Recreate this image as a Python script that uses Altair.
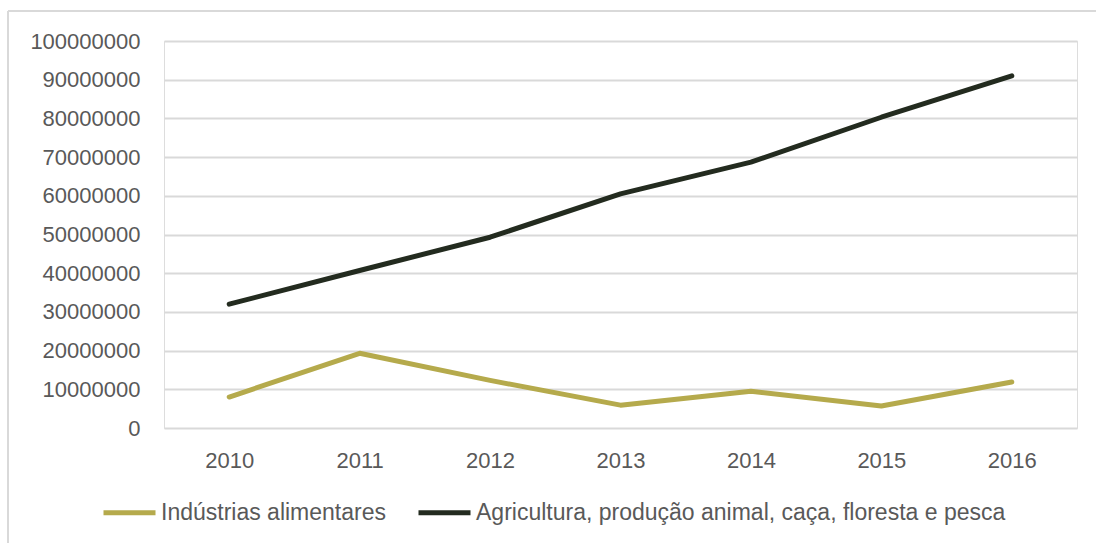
import altair as alt
import pandas as pd

years = ["2010", "2011", "2012", "2013", "2014", "2015", "2016"]
industrias = [8000000, 19300000, 12300000, 5900000, 9500000, 5700000, 11900000]
agricultura = [32000000, 40700000, 49300000, 60500000, 68700000, 80300000, 91000000]
series_names = ["Indústrias alimentares", "Agricultura, produção animal, caça, floresta e pesca"]
colors = ["#b5aa4c", "#232b1f"]
y_ticks = list(range(0, 100000001, 10000000))

rows = []
for i, y in enumerate(years):
    rows.append({"ano": y, "valor": industrias[i], "serie": series_names[0]})
    rows.append({"ano": y, "valor": agricultura[i], "serie": series_names[1]})
df = pd.DataFrame(rows)

FONT = "Liberation Sans"
W, H = 913, 387
PL, PT = 164, 41

lines = alt.Chart(df).mark_line(strokeWidth=5, strokeCap="round", strokeJoin="round").encode(
    x=alt.X("ano:O", sort=years, title=None,
            scale=alt.Scale(type="point", padding=0.5),
            axis=alt.Axis(labelAngle=0, ticks=False, domain=False, labelPadding=22,
                          labelFontSize=22, labelColor="#595959", labelFont=FONT)),
    y=alt.Y("valor:Q", title=None,
            scale=alt.Scale(domain=[0, 100000000], nice=False),
            axis=alt.Axis(values=y_ticks, format="d", ticks=False, domain=False,
                          labelPadding=24, labelFontSize=22, labelColor="#595959",
                          labelFont=FONT, grid=True, gridColor="#d9d9d9", gridWidth=2)),
    color=alt.Color("serie:N", sort=series_names, title=None,
                    scale=alt.Scale(domain=series_names, range=colors),
                    legend=alt.Legend(orient="none", legendX=-63, legendY=443, direction="horizontal",
                                      symbolType="stroke", symbolSize=2704, symbolStrokeWidth=5,
                                      labelFontSize=23, labelColor="#595959", labelFont=FONT,
                                      labelOffset=3, columnPadding=22, labelLimit=800)),
)

border_top = alt.Chart(pd.DataFrame({"a": [0]})).mark_rule(color="#d9d9d9", strokeWidth=2).encode(
    x=alt.value(8 - PL), x2=alt.value(1100 - PL), y=alt.value(11 - PT))
border_left = alt.Chart(pd.DataFrame({"a": [0]})).mark_rule(color="#d9d9d9", strokeWidth=2).encode(
    x=alt.value(8 - PL), y=alt.value(11 - PT), y2=alt.value(560 - PT))

chart = alt.layer(border_top, border_left, lines).properties(
    width=W, height=H,
    autosize=alt.AutoSizeParams(type="none"),
    padding={"left": PL, "top": PT, "right": 1096 - PL - W, "bottom": 543 - PT - H},
).configure_view(stroke=None).configure(background="white")

chart.save("out.html", embed_options={"renderer": "svg", "actions": False})
